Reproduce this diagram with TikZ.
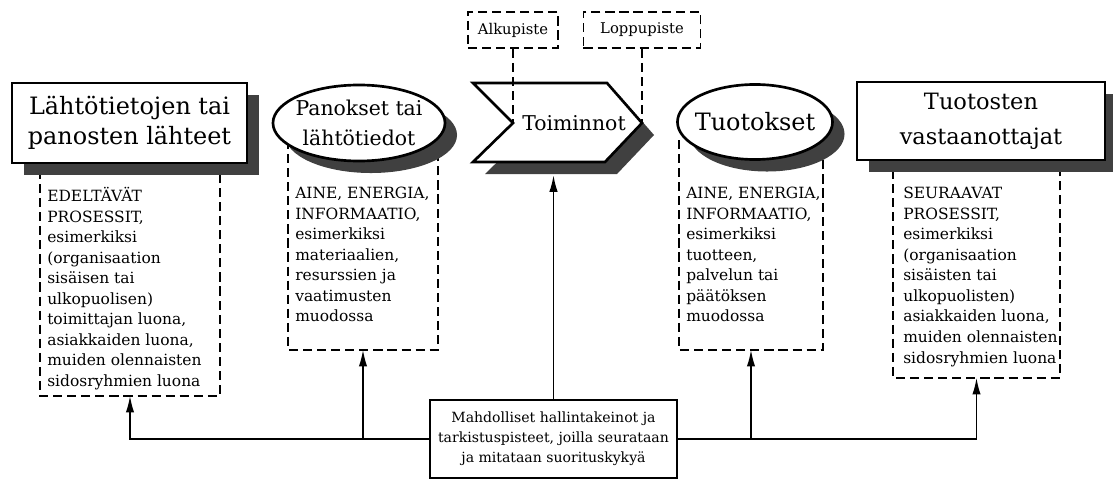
\documentclass[tikz,border=0pt]{standalone}
\usepackage{fontspec}
\setmainfont{DejaVu Serif}
\usetikzlibrary{positioning,shapes.geometric,shadows,backgrounds,arrows.meta}

\newcommand{\fsz}[2]{\fontsize{#1}{#2}\selectfont}

\begin{document}
\begin{tikzpicture}[x=0.025cm, y=-0.025cm,
    hdr/.style = {draw, line width=1.9pt, fill=white, inner sep=0pt, align=center},
    shadowed/.style = {drop shadow={shadow xshift=0.3cm, shadow yshift=-0.3cm, fill=black!75, opacity=1}},
    body/.style = {font=\fsz{11}{14.6}, align=left, inner sep=0pt, anchor=north west},
    dfr/.style = {inner sep=0pt},
    dsh/.style = {dash pattern=on 6.5pt off 3.5pt, line width=1.3pt},
    pnt/.style = {draw, dsh, font=\fsz{10.5}{12}, minimum height=0.9cm},
    arr/.style = {-{Latex[length=12pt,width=6pt]}, line width=1.3pt}]
	\useasboundingbox (0,0) rectangle (1113,480);
	% ylarivi
	\node[hdr, shadowed, font=\fsz{17}{21.3}, minimum width=5.875cm, minimum height=2cm] (src) at (129.5,123) {Lähtötietojen tai\\panosten lähteet};
	\node[hdr, shadowed, ellipse, minimum width=4.3cm, minimum height=1.9cm] (inp) at (359,123) {};
	\node[font=\fsz{14.5}{21.3}, align=center] (inpt) at (inp) {Panokset tai\\lähtötiedot};
	\draw[line width=1.9pt, fill=white, shadowed] (473,83) -- (607,83) -- (642,123) -- (605,162) -- (473,162) -- (513,123) -- cycle;
	\coordinate (notch) at (513,123);
	\coordinate (tip) at (642,123);
	\node[font=\fsz{14.5}{17}] (toim) at (574,123) {Toiminnot};
	\node[hdr, shadowed, ellipse, minimum width=3.875cm, minimum height=1.875cm] (out) at (755,122) {};
	\node[font=\fsz{17}{21}] (outt) at (out) {Tuotokset};
	\node[hdr, shadowed, font=\fsz{16}{25}, minimum width=6.2cm, minimum height=1.95cm] (rec) at (981,121) {Tuotosten\\vastaanottajat};
	% alku- ja loppupiste
	\node[pnt, minimum width=2.25cm] (alku) at (513,30) {Alkupiste};
	\node[pnt, minimum width=2.925cm] (loppu) at (642,30) {Loppupiste};
	\draw[dsh] (alku) -- (notch);
	\draw[dsh] (loppu) -- (tip);
	% katkoviivalaatikot
	\node[dfr, minimum width=4.5cm, minimum height=5.625cm, anchor=north] (srcd) at (130,170) {};
	\node[dfr, minimum width=3.75cm, minimum height=5.225cm, anchor=north] (inpd) at (363,140) {};
	\node[dfr, minimum width=3.6cm, minimum height=5.225cm, anchor=north] (outd) at (751,140) {};
	\node[dfr, minimum width=4.175cm, minimum height=5.175cm, anchor=north] (recd) at (976.5,170) {};
	\begin{scope}[on background layer]
	\foreach \d in {srcd,inpd,outd,recd}
		\draw[dsh] (\d.north west) -- (\d.south west) -- (\d.south east) -- (\d.north east);
	\end{scope}
	\node[body] (srctx) at (47,187) {EDELTÄVÄT\\PROSESSIT,\\esimerkiksi\\(organisaation\\sisäisen tai\\ulkopuolisen)\\toimittajan luona,\\asiakkaiden luona,\\muiden olennaisten\\sidosryhmien luona};
	\node[body] (inptx) at (295,187) {AINE, ENERGIA,\\INFORMAATIO,\\esimerkiksi\\materiaalien,\\resurssien ja\\vaatimusten\\muodossa};
	\node[body] (outtx) at (686,187) {AINE, ENERGIA,\\INFORMAATIO,\\esimerkiksi\\tuotteen,\\palvelun tai\\päätöksen\\muodossa};
	\node[body] (rectx) at (903,187) {SEURAAVAT\\PROSESSIT,\\esimerkiksi\\(organisaation\\sisäisten tai\\ulkopuolisten)\\asiakkaiden luona,\\muiden olennaisten\\sidosryhmien luona};
	% hallintakeinot
	\node[hdr, font=\fsz{10}{14.2}, minimum width=6.175cm, minimum height=1.95cm] (ctrl) at (553.5,439) {Mahdolliset hallintakeinot ja\\tarkistuspisteet, joilla seurataan\\ja mitataan suorituskykyä};
	\coordinate (toimb) at (553.5,175);
	\draw[arr] (ctrl) -- (toimb);
	\draw[arr] (ctrl.west) -| (srcd.south);
	\draw[arr] (ctrl.west -| inpd.south) -- (inpd.south);
	\draw[arr] (ctrl.east) -| (recd.south);
	\draw[arr] (ctrl.east -| outd.south) -- (outd.south);
\end{tikzpicture}
\end{document}
